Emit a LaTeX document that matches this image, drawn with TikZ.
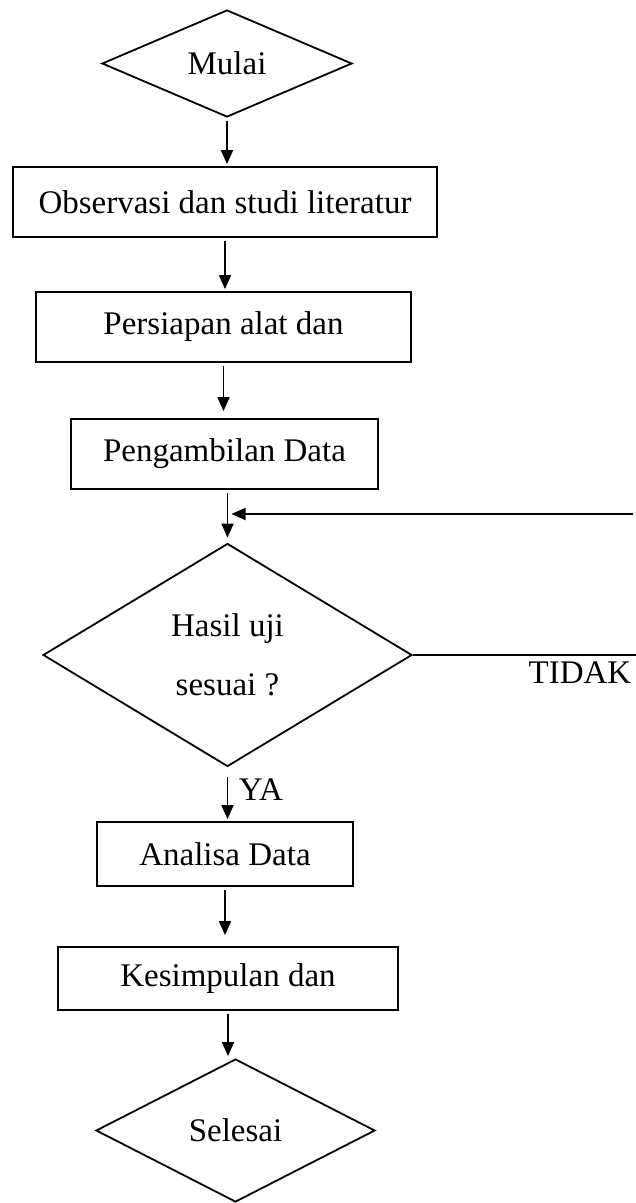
\documentclass[tikz,border=0pt]{standalone}
\usepackage{fontspec}
\setmainfont{Liberation Serif}
\usetikzlibrary{shapes.geometric}
\usetikzlibrary{arrows.meta}
\tikzstyle{terminal}=[diamond,draw,line width=1.8pt,inner sep=0pt]
\tikzstyle{process}=[rectangle,draw,line width=1.8pt,inner sep=0pt]
\tikzstyle{flow}=[-{Triangle[length=14pt,width=12pt]},line width=1.8pt,shorten <=3pt,shorten >=2pt]
\newcommand{\flowfont}{\fontsize{33}{40}\selectfont}

\begin{document}
\begin{tikzpicture}[x=1pt,y=-1pt,font=\flowfont]
  \useasboundingbox (0,0) rectangle (636,1203);
  \node[terminal,minimum width=250pt,minimum height=107pt,shape aspect=2.3] (mulai) at (227,63.5) {Mulai};
  \node[process,minimum width=424pt,minimum height=70pt] (observasi) at (225,202) {Observasi dan studi literatur};
  \node[process,minimum width=375pt,minimum height=70pt] (persiapan) at (223.5,327) {Persiapan alat dan};
  \node[process,minimum width=307pt,minimum height=70pt] (pengambilan) at (224.5,454) {Pengambilan Data};
  \node[terminal,minimum width=369pt,minimum height=223pt,shape aspect=1.65,align=center,
        font=\fontsize{33}{59}\selectfont] (cek) at (227.5,655) {Hasil uji\\sesuai ?};
  \node[process,minimum width=256pt,minimum height=64pt] (analisa) at (225,854) {Analisa Data};
  \node[process,minimum width=340pt,minimum height=63pt] (kesimpulan) at (228,978.5) {Kesimpulan dan};
  \node[terminal,minimum width=279pt,minimum height=143pt,shape aspect=1.95] (selesai) at (235.5,1130.5) {Selesai};
  \node (ya) at (261,790) {YA};
  \node (tidak) at (580,673) {TIDAK};
  \coordinate (loopin) at (636,514); % kembali dari TIDAK
  \coordinate (loopout) at (636,655);

  \draw[flow] (mulai.south) -- (mulai.south |- observasi.north);
  \draw[flow] (observasi.south) -- (observasi.south |- persiapan.north);
  \draw[flow,shorten >=7pt] (persiapan.south) -- (persiapan.south |- pengambilan.north);
  \draw[flow,shorten >=5pt] (pengambilan.south -| cek.north) -- (cek.north);
  \draw[flow,shorten >=4pt] (loopin) -- (loopin -| cek.north);
  \draw[line width=1.8pt] (cek.east) -- (loopout);
  \draw[flow,shorten <=10pt] (cek.south) -- (cek.south |- analisa.north);
  \draw[flow,shorten >=11pt] (analisa.south) -- (analisa.south |- kesimpulan.north);
  \draw[flow] (kesimpulan.south) -- (kesimpulan.south |- selesai.north);
\end{tikzpicture}
\end{document}
